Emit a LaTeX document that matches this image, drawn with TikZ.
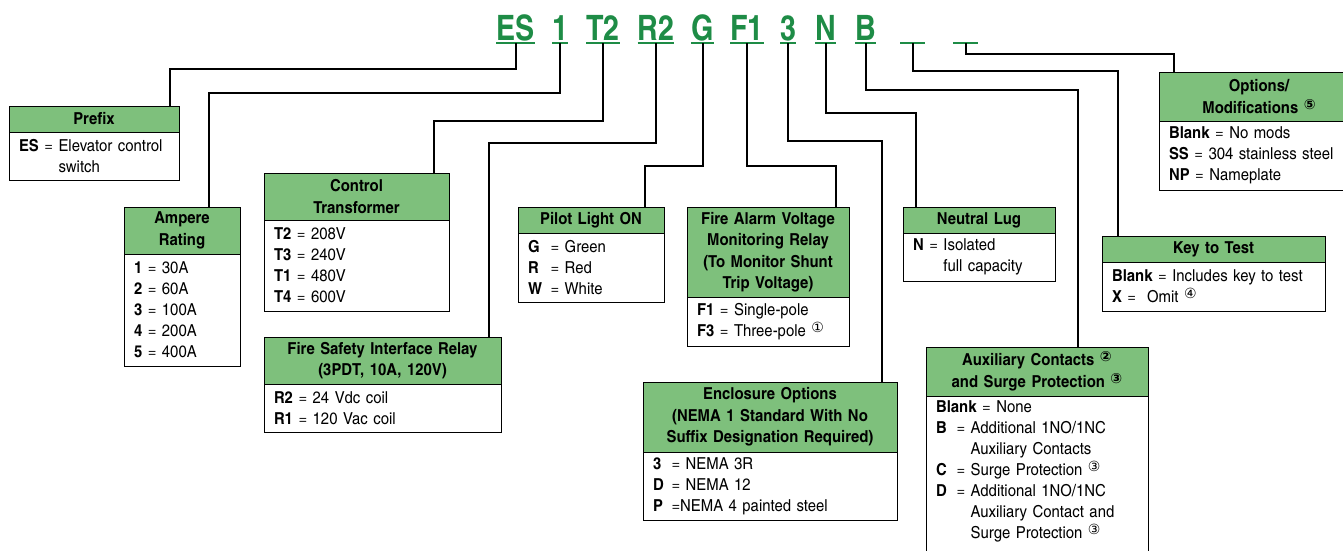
\documentclass[tikz,border=0pt]{standalone}
\usepackage{fontspec}
\setmainfont{texgyreheroscn}[Extension=.otf, UprightFont=*-regular, BoldFont=*-bold, ItalicFont=*-italic, BoldItalicFont=*-bolditalic, FakeStretch=1.1]
\newfontfamily\codefont{texgyreheroscn}[Extension=.otf, UprightFont=*-bold]
\newfontfamily\circfont{DejaVu Sans}
\usepackage{tikz}
\usetikzlibrary{positioning, calc}
\definecolor{headgreen}{RGB}{126,192,124}
\definecolor{codegreen}{RGB}{30,140,70}
\newcommand{\circnum}[1]{\raisebox{0.45ex}{\circfont\fontsize{14}{14}\selectfont #1}}
\newcommand{\keyw}[2]{\makebox[#1][l]{\textbf{#2}}}

\begin{document}
\begin{tikzpicture}[x=1pt, y=-1pt,
    codeletter/.style={anchor=base, text=codegreen, font=\codefont\fontsize{35}{40}\selectfont,
      inner xsep=0pt, inner ysep=3pt, outer sep=0pt, text height=25pt, text depth=0pt,
      append after command={(\tikzlastnode.south west) edge[codegreen, line width=2.5pt] (\tikzlastnode.south east)}},
    headbox/.style={anchor=north west, draw, line width=1pt, fill=headgreen, align=center,
      font=\fontsize{16.5}{21.5}\selectfont\bfseries, inner sep=2pt, outer sep=0pt},
    bodybox/.style={anchor=north west, draw, line width=1pt, align=left,
      font=\fontsize{16.5}{21}\selectfont, inner xsep=10pt, inner ysep=2pt, outer sep=0pt},
    leader/.style={line width=2pt}]
  \useasboundingbox (0,0) rectangle (1343,550);
  \clip (0,0) rectangle (1343,550);

  % catalogue number
  \node[codeletter] (es) at (515.5,40) {ES};
  \node[codeletter] (amp) at (560,40) {1};
  \node[codeletter] (xfmr) at (603,40) {T2};
  \node[codeletter] (relay) at (656,40) {R2};
  \node[codeletter] (light) at (702.5,40) {G};
  \node[codeletter] (alarm) at (747,40) {F1};
  \node[codeletter] (encl) at (788,40) {3};
  \node[codeletter] (lug) at (825.5,40) {N};
  \node[codeletter] (aux) at (865.5,40) {B};
  \node[codeletter, minimum width=25pt] (key) at (912.5,40) {};
  \node[codeletter, minimum width=25pt] (opts) at (965.5,40) {};

  % option boxes
  \node[headbox, text width=166pt, minimum height=26pt] (prefixhead) at (9,106) {Prefix};
  \node[bodybox, text width=150pt, minimum height=48pt] (prefixbody) at (prefixhead.south west)
    {\textbf{ES} = Elevator control\\\phantom{\textbf{ES} = }switch};

  \node[headbox, text width=112pt, minimum height=47pt] (amphead) at (124,207) {Ampere\\Rating};
  \node[bodybox, text width=96pt, minimum height=112pt] (ampbody) at (amphead.south west)
    {\textbf{1} = 30A\\\textbf{2} = 60A\\\textbf{3} = 100A\\\textbf{4} = 200A\\\textbf{5} = 400A};

  \node[headbox, text width=181pt, minimum height=47pt] (xfmrhead) at (264,173) {Control\\Transformer};
  \node[bodybox, text width=165pt, minimum height=91pt] (xfmrbody) at (xfmrhead.south west)
    {\textbf{T2} = 208V\\\textbf{T3} = 240V\\\textbf{T1} = 480V\\\textbf{T4} = 600V};

  \node[headbox, text width=233pt, minimum height=47pt] (relayhead) at (264,337) {Fire Safety Interface Relay\\(3PDT, 10A, 120V)};
  \node[bodybox, text width=217pt, minimum height=48pt] (relaybody) at (relayhead.south west)
    {\textbf{R2} = 24 Vdc coil\\\textbf{R1} = 120 Vac coil};

  \node[headbox, text width=142pt, minimum height=26pt] (lighthead) at (518,207) {Pilot Light ON};
  \node[bodybox, text width=126pt, minimum height=69pt] (lightbody) at (lighthead.south west)
    {\keyw{17pt}{G} = Green\\\keyw{17pt}{R} = Red\\\keyw{17pt}{W} = White};

  \node[headbox, text width=158pt, minimum height=90pt] (alarmhead) at (687,207)
    {Fire Alarm Voltage\\Monitoring Relay\\(To Monitor Shunt\\Trip Voltage)};
  \node[bodybox, text width=142pt, minimum height=49pt] (alarmbody) at (alarmhead.south west)
    {\textbf{F1} = Single-pole\\\textbf{F3} = Three-pole \circnum{①}};

  \node[headbox, text width=250pt, minimum height=70pt] (enclhead) at (643,382)
    {Enclosure Options\\(NEMA 1 Standard With No\\Suffix Designation Required)};
  \node[bodybox, text width=234pt, minimum height=68pt] (enclbody) at (enclhead.south west)
    {\keyw{13pt}{3} = NEMA 3R\\\keyw{13pt}{D} = NEMA 12\\\keyw{13pt}{P} =NEMA 4 painted steel};

  \node[headbox, text width=148pt, minimum height=26pt] (lughead) at (903,207) {Neutral Lug};
  \node[bodybox, text width=132pt, minimum height=48pt] (lugbody) at (lughead.south west)
    {\textbf{N} = Isolated\\\phantom{\textbf{N} = }full capacity};

  \node[headbox, text width=218pt, minimum height=49pt] (auxhead) at (926,347)
    {Auxiliary Contacts \circnum{②}\\and Surge Protection \circnum{③}};
  \node[bodybox, draw=none, text width=202pt, inner ysep=5pt] (auxbody) at (auxhead.south west)
    {\textbf{Blank} = None\\
     \keyw{15pt}{B} = Additional 1NO/1NC\\
     \phantom{\keyw{15pt}{B} = }Auxiliary Contacts\\
     \keyw{15pt}{C} = Surge Protection \circnum{③}\\
     \keyw{15pt}{D} = Additional 1NO/1NC\\
     \phantom{\keyw{15pt}{D} = }Auxiliary Contact and\\
     \phantom{\keyw{15pt}{D} = }Surge Protection \circnum{③}};
  \draw[line width=1pt] (auxhead.south west) rectangle ($(auxhead.south east)+(0,220)$);

  \node[headbox, text width=219pt, minimum height=26pt] (keyhead) at (1102,236) {Key to Test};
  \node[bodybox, text width=203pt, minimum height=49pt] (keybody) at (keyhead.south west)
    {\textbf{Blank} = Includes key to test\\\textbf{X} = \ Omit \circnum{④}};

  \node[headbox, text width=196pt, minimum height=49pt] (optshead) at (1159,72) {Options/\\Modifications \circnum{⑤}};
  \node[bodybox, text width=180pt, minimum height=69pt] (optsbody) at (optshead.south west)
    {\textbf{Blank} = No mods\\\textbf{SS} = 304 stainless steel\\\textbf{NP} = Nameplate};

  % leaders
  \draw[leader] (es.south) -- ++(0,26) -| ($(prefixhead.north west)+(161,0)$);
  \draw[leader] (amp.south) -- ++(0,50) -| ($(amphead.north west)+(85,0)$);
  \draw[leader] (xfmr.south) -- ++(0,78) -| ($(xfmrhead.north west)+(170,0)$);
  \draw[leader] (relay.south) -- ++(0,100) -| ($(relayhead.north west)+(225,0)$);
  \draw[leader] (light.south) -- ++(0,123) -| ($(lighthead.north west)+(127,0)$);
  \draw[leader] (alarm.south) -- ++(0,123) -| ($(alarmhead.north west)+(149,0)$);
  \draw[leader] (encl.south) -- ++(0,98) -| ($(enclhead.north west)+(239,0)$);
  \draw[leader] (lug.south) -- ++(0,70) -| ($(lughead.north west)+(13,0)$);
  \draw[leader] (aux.south) -- ++(0,47) -| ($(auxhead.north west)+(152,0)$);
  \draw[leader] (key.south) -- ++(0,28) -| ($(keyhead.north west)+(16,0)$);
  \draw[leader] (opts.south) -- ++(0,11) -| ($(optshead.north west)+(15,0)$);
\end{tikzpicture}
\end{document}
